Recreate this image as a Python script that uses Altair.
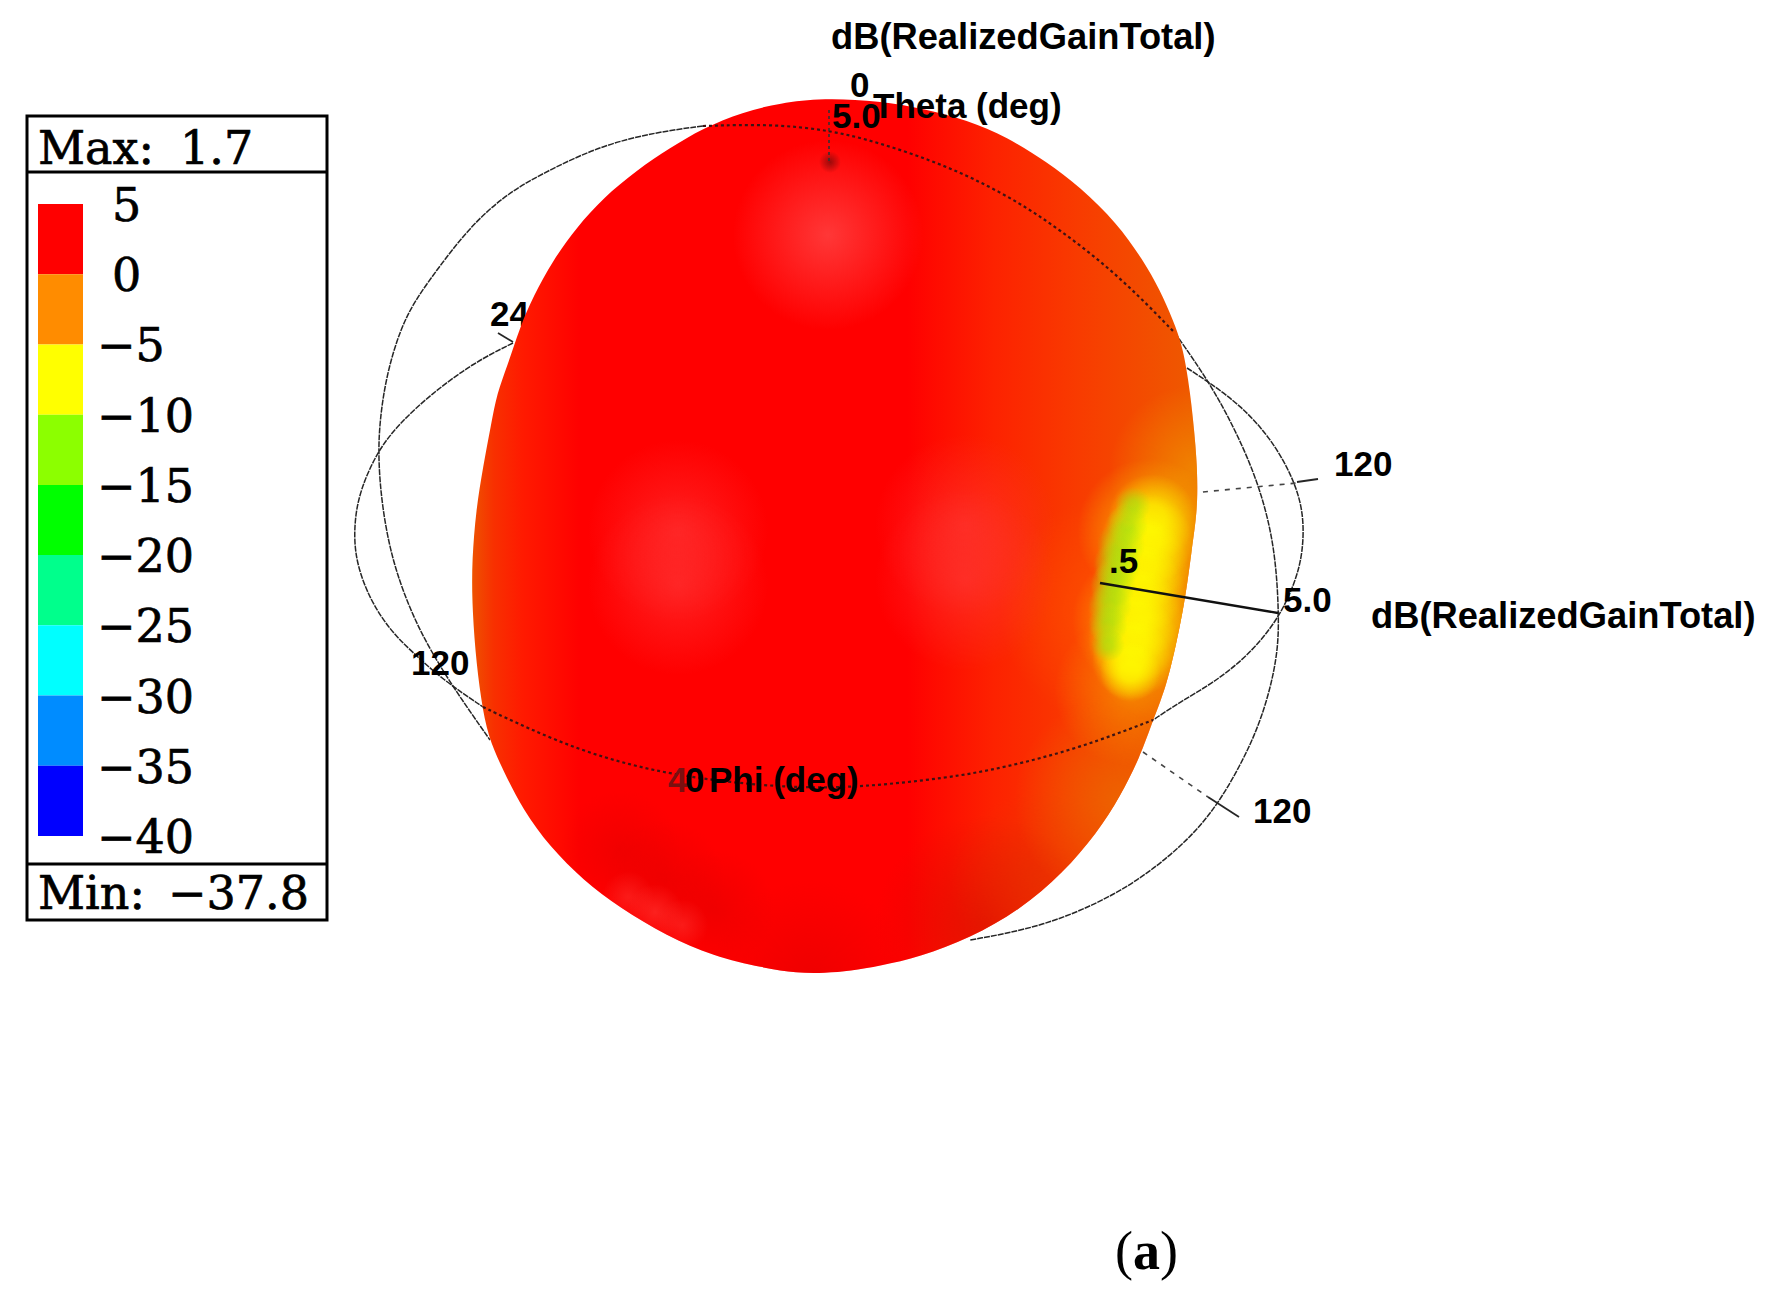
import altair as alt
import pandas as pd

# ---- legend values
db_edges = [5, 0, -5, -10, -15, -20, -25, -30, -35, -40]
db_labels = ["5", "0", "−5", "−10", "−15", "−20", "−25", "−30", "−35", "−40"]
db_colors = ["#ff0000", "#ff8c00", "#ffff00", "#8cff00", "#00ff00",
             "#00ff8c", "#00ffff", "#008cff", "#0000ff"]

# ---- pattern silhouette, read clockwise from the top of the picture
body_x = [823, 880, 925, 967, 1007, 1047, 1080, 1117, 1143, 1160, 1173, 1183, 1190, 1196, 1198, 1196, 1192, 1185,
          1170, 1160, 1152, 1140, 1120, 1097, 1063, 1020, 970, 920, 880, 850, 825, 797, 763, 713, 667, 620, 583, 550,
          523, 503, 488, 481, 475, 472, 472, 476, 483, 491, 497, 507, 520, 533, 553, 577, 603, 637, 670, 703,
          743, 780]
body_y = [98, 101, 109, 120, 137, 162, 187, 223, 260, 290, 320, 347, 390, 447, 490, 520, 547, 603,
          673, 703, 723, 757, 797, 833, 873, 910, 938, 957, 966, 971, 973, 973, 968, 956, 936, 908, 880, 847,
          810, 770, 737, 700, 650, 600, 560, 510, 467, 425, 393, 367, 327, 297, 260, 227, 198, 170, 148, 128,
          112, 103]
bbox_x = (472, 1198)
bbox_y = (98, 973)

# ---- reference circles
theta_back_x = [703, 657, 603, 553, 507, 470, 442, 415, 400, 387, 380, 378, 382, 392, 410, 430, 457, 490]
theta_back_y = [126, 132, 145, 168, 193, 227, 263, 300, 330, 373, 417, 457, 507, 560, 610, 650, 693, 740]
theta_front_x = [703, 770, 830, 880, 930, 973, 1020, 1060, 1103, 1140, 1175]
theta_front_y = [126, 124, 130, 143, 160, 178, 203, 230, 263, 297, 333]
theta_right_x = [1175, 1210, 1237, 1260, 1275, 1279, 1278, 1263, 1240, 1210, 1170, 1117, 1043, 970]
theta_right_y = [333, 383, 433, 487, 547, 613, 657, 717, 767, 817, 857, 895, 927, 940]
phi_left_x = [513, 473, 430, 400, 378, 360, 354, 355, 370, 390, 410, 443, 483]
phi_left_y = [343, 363, 395, 423, 450, 490, 523, 560, 600, 630, 650, 680, 707]
phi_right_x = [1187, 1210, 1240, 1270, 1293, 1304, 1303, 1295, 1278, 1247, 1213, 1180, 1153]
phi_right_y = [368, 383, 405, 437, 477, 513, 553, 583, 620, 657, 683, 702, 720]
phi_front_x = [483, 527, 580, 630, 677, 735, 800, 863, 947, 1003, 1080, 1153]
phi_front_y = [707, 728, 750, 765, 775, 783, 788, 787, 778, 768, 748, 720]

# ---- axis ticks: x1, y1, x2, y2
solid_ticks = [(1100, 583, 1278, 613), (1297, 482, 1318, 479), (1208, 797, 1239, 817), (498, 333, 513, 342)]
dotted_ticks = [(829, 110, 829, 163), (1192, 493, 1297, 483), (1143, 752, 1208, 797)]

# ---- the low-gain spot on the right of the body: centres and radii read along its left rim
spot_x = [1152, 1147, 1142, 1138, 1135, 1133, 1132, 1130]
spot_y = [518, 540, 565, 590, 615, 640, 660, 672]
spot_r = [44, 46, 47, 47, 47, 45, 40, 30]
green_x = [1133, 1127, 1121, 1117, 1113, 1110, 1108, 1108]
green_y = [505, 525, 545, 565, 585, 605, 625, 645]
green_r = [18, 21, 24, 24, 23, 22, 20, 17]

# ---- labels
sans_text = ["0", "5.0", "Theta (deg)", ".5", "5.0", "120", "120", "120", "0", "Phi (deg)"]
sans_x = [850, 832, 873, 1109, 1283, 1334, 1253, 411, 685, 709]
sans_y = [86, 117, 107, 562, 601, 465, 812, 664, 781, 781]
title_text = ["dB(RealizedGainTotal)", "dB(RealizedGainTotal)"]
title_x = [831, 1371]
title_y = [38, 617]
dim_text = ["4"]
dim_x = [668]
dim_y = [781]
hidden_text = ["240"]
hidden_x = [490]
hidden_y = [315]
legend_text = ["Max:", "1.7", "Min:", "−37.8"]
legend_x = [38, 180, 38, 168]
legend_y = [150, 150, 895, 895]

fx = alt.Scale(domain=[8, 1758], range=[0, 1750])
fy = alt.Scale(domain=[8, 1285], range=[0, 1277])
X = alt.X("x:Q", scale=fx, axis=None)
Y = alt.Y("y:Q", scale=fy, axis=None)


def path(xs, ys):
    return pd.DataFrame({"x": xs, "y": ys, "i": range(len(xs))})


def arc(xs, ys, **kw):
    return alt.Chart(path(xs, ys)).mark_line(interpolate="basis", **kw).encode(
        x=X, y=Y, order=alt.Order("i:Q"))


def ticks(rows, **kw):
    return [arc([r[0], r[2]], [r[1], r[3]], **kw) for r in rows]


def radial(cx, cy, r, stops):
    return {"gradient": "radial", "x1": cx, "y1": cy, "r1": 0, "x2": cx, "y2": cy, "r2": r,
            "stops": [{"offset": o, "color": c} for o, c in stops]}


def body(fill):
    return alt.Chart(path(body_x, body_y)).mark_line(
        interpolate="basis-closed", fill=fill, stroke="transparent", strokeWidth=0
    ).encode(x=X, y=Y, order=alt.Order("i:Q"))


def glow(cx, cy, R, stops):
    # a copy of the silhouette, so that the glow stops at its edge
    side = max(bbox_x[1] - bbox_x[0], bbox_y[1] - bbox_y[0])
    x0 = (bbox_x[0] + bbox_x[1] - side) / 2
    y0 = (bbox_y[0] + bbox_y[1] - side) / 2
    return body(radial((cx - x0) / side, (cy - y0) / side, R / side, stops))


def blob(cx, cy, R, stops):
    d = pd.DataFrame({"x": [cx - R], "x2": [cx + R], "y": [cy - R], "y2": [cy + R]})
    return alt.Chart(d).mark_rect(fill=radial(.5, .5, .5, stops), stroke="transparent").encode(
        x=X, x2="x2:Q", y=Y, y2="y2:Q")


def texts(ts, xs, ys, **kw):
    d = pd.DataFrame({"t": ts, "x": xs, "y": ys})
    kw.setdefault("color", "black")
    return alt.Chart(d).mark_text(align="left", baseline="middle", **kw).encode(
        x=X, y=Y, text="t:N")


def fade(rgb, a):
    return [(0, f"rgba({rgb},{a})"), (1, f"rgba({rgb},0)")]


def plateau(rgb, a, at):
    return [(0, f"rgba({rgb},{a})"), (at, f"rgba({rgb},{a})"), (1, f"rgba({rgb},0)")]


base_fill = {"gradient": "linear", "x1": 0, "y1": 0, "x2": 1, "y2": 0, "stops": [
    {"offset": 0, "color": "#ee5200"}, {"offset": .03, "color": "#f83000"},
    {"offset": .07, "color": "#ff1a00"}, {"offset": .15, "color": "#ff0000"},
    {"offset": .60, "color": "#ff0000"}, {"offset": .72, "color": "#fd2200"},
    {"offset": .84, "color": "#f83c00"}, {"offset": 1, "color": "#ee5a00"}]}

pink = "255,58,58"
line = "#262626"
layers = []
# behind the body
layers += [arc(theta_back_x, theta_back_y, color=line, strokeWidth=1.5, strokeDash=[6, 1]),
           arc(theta_right_x, theta_right_y, color=line, strokeWidth=1.5, strokeDash=[6, 1]),
           arc(phi_left_x, phi_left_y, color=line, strokeWidth=1.5, strokeDash=[6, 1]),
           arc(phi_right_x, phi_right_y, color=line, strokeWidth=1.5, strokeDash=[6, 1])]
layers += ticks(solid_ticks[1:], color=line, strokeWidth=1.8)
layers += ticks(dotted_ticks[1:], color="#444444", strokeWidth=1.6, strokeDash=[5, 6])
layers.append(texts(hidden_text, hidden_x, hidden_y, font="Liberation Sans", fontSize=35, fontWeight="bold"))
# body and its shading
layers += [
    body(base_fill),
    glow(985, 925, 110, fade("212,12,0", .6)),
    glow(1040, 880, 90, fade("228,50,0", .55)),
    glow(620, 850, 60, fade("225,0,0", .45)),
    glow(665, 880, 60, fade("225,0,0", .5)),
    glow(715, 910, 60, fade("225,0,0", .5)),
    glow(810, 980, 100, fade("225,0,0", .55)),
    glow(628, 897, 26, fade("255,60,55", .45)),
    glow(655, 912, 28, fade("255,60,55", .55)),
    glow(682, 925, 26, fade("255,60,55", .45)),
    glow(1120, 800, 105, fade("235,105,0", .8)),
    glow(1115, 610, 115, fade("255,85,0", .75)),
    glow(1195, 470, 85, fade("240,145,0", .75)),
    glow(1170, 560, 75, fade("240,150,0", .8)),
    glow(1165, 640, 80, fade("240,150,0", .8)),
    glow(1130, 690, 75, fade("245,165,0", .6)),
    glow(1150, 530, 72, fade("250,205,0", .8)),
    glow(1145, 620, 72, fade("250,205,0", .8)),
    blob(828, 235, 95, fade(pink, .95)),
    blob(678, 530, 90, fade(pink, .55)),
    blob(678, 585, 90, fade(pink, .55)),
    blob(965, 525, 90, fade(pink, .55)),
    blob(965, 580, 90, fade(pink, .55)),
    blob(830, 162, 11, fade("110,10,10", .7)),
]
layers += [blob(a, b, c, plateau("255,255,0", .6, .3)) for a, b, c in zip(spot_x, spot_y, spot_r)]
layers += [blob(a, b, c, plateau("150,225,20", .55, .25)) for a, b, c in zip(green_x, green_y, green_r)]
# over the body
dots = dict(color="#3c1414", strokeWidth=2.2, strokeDash=[3, 3])
layers += [arc(theta_front_x, theta_front_y, **dots), arc(phi_front_x, phi_front_y, **dots)]
layers += ticks(solid_ticks[:1], color="#111111", strokeWidth=2.4)
layers += ticks(dotted_ticks[:1], color="#333333", strokeWidth=1.6, strokeDash=[3, 3])
layers.append(texts(dim_text, dim_x, dim_y, font="Liberation Sans", fontSize=35, fontWeight="bold", color="#7a1010"))
layers.append(texts(sans_text, sans_x, sans_y, font="Liberation Sans", fontSize=35, fontWeight="bold"))
layers.append(texts(title_text, title_x, title_y, font="Liberation Sans", fontSize=36.3, fontWeight="bold"))

# legend frame
frame = pd.DataFrame({"x": [27], "x2": [327], "y": [116], "y2": [920]})
layers.append(alt.Chart(frame).mark_rect(fill="transparent", stroke="black", strokeWidth=3).encode(
    x=X, x2="x2:Q", y=Y, y2="y2:Q"))
seps = pd.DataFrame({"x": [27, 27], "x2": [327, 327], "y": [172, 864]})
layers.append(alt.Chart(seps).mark_rule(color="black", strokeWidth=3).encode(x=X, x2="x2:Q", y=Y))
serif = dict(font="DejaVu Serif", fontSize=46, stroke="black", strokeWidth=0.7)
layers.append(texts(legend_text, legend_x, legend_y, **serif))

# colour key on its own dB scale
dbs = alt.Scale(domain=[5, -40], range=[196, 828])
bins = pd.DataFrame({"hi": db_edges[:-1], "lo": db_edges[1:], "c": db_colors})
layers.append(alt.Chart(bins).mark_rect().encode(
    x=alt.value(30), x2=alt.value(75),
    y=alt.Y("hi:Q", scale=dbs, axis=None), y2="lo:Q",
    fill=alt.Fill("c:N", scale=None)))
lab = pd.DataFrame({"db": db_edges, "t": db_labels})
layers.append(alt.Chart(lab).transform_filter("datum.db >= 0").mark_text(
    align="left", baseline="middle", color="black", dy=3, **serif).encode(
    x=alt.value(104), y=alt.Y("db:Q", scale=dbs, axis=None), text="t:N"))
layers.append(alt.Chart(lab).transform_filter("datum.db < 0").mark_text(
    align="left", baseline="middle", color="black", dy=3, **serif).encode(
    x=alt.value(89), y=alt.Y("db:Q", scale=dbs, axis=None), text="t:N"))

# caption
layers.append(texts(["("], [1115], [1253], font="Liberation Serif", fontSize=54))
layers.append(texts(["a"], [1133], [1253], font="Liberation Serif", fontSize=54, fontWeight="bold"))
layers.append(texts([")"], [1160], [1253], font="Liberation Serif", fontSize=54))

chart = alt.layer(*layers).resolve_scale(y="independent", x="independent").properties(
    width=1750, height=1277, padding=0,
    autosize=alt.AutoSizeParams(type="none"),
).configure_view(stroke=None)

chart.save("out.html", embed_options={"renderer": "svg", "actions": False})
